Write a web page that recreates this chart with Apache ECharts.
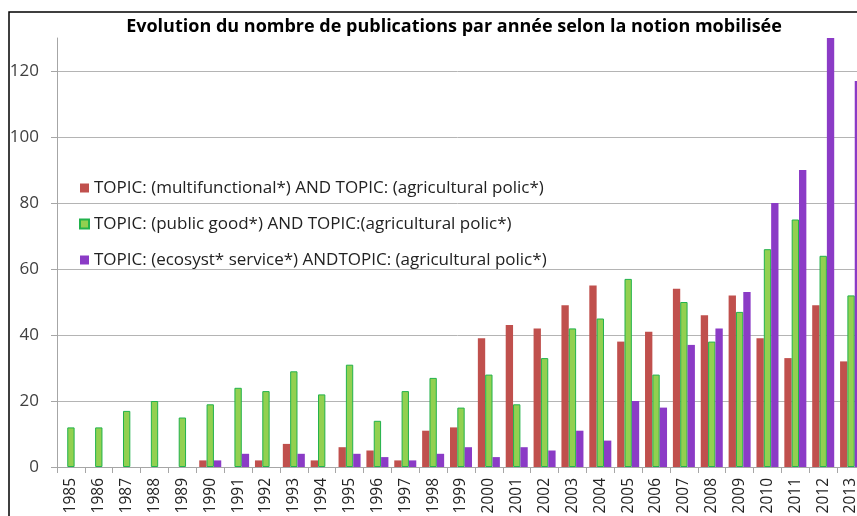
<!DOCTYPE html>
<html>
<head>
<meta charset="utf-8">
<script src="https://cdn.jsdelivr.net/npm/echarts@6/dist/echarts.min.js"></script>
<style>
  * { margin: 0; padding: 0; }
  body { background: #fff; }
</style>
</head>
<body>
<div id="main" style="width: 857px; height: 516px"></div>
<script>
// années
var years = ["1985", "1986", "1987", "1988", "1989", "1990", "1991", "1992", "1993", "1994",
  "1995", "1996", "1997", "1998", "1999", "2000", "2001", "2002", "2003", "2004",
  "2005", "2006", "2007", "2008", "2009", "2010", "2011", "2012", "2013"];
// séries
var multifunctional = [0, 0, 0, 0, 0, 2, 0, 2, 7, 2, 6, 5, 2, 11, 12, 39, 43, 42, 49, 55,
  38, 41, 54, 46, 52, 39, 33, 49, 32];
var publicGood = [12, 12, 17, 20, 15, 19, 24, 23, 29, 22, 31, 14, 23, 27, 18, 28, 19, 33, 42, 45,
  57, 28, 50, 38, 47, 66, 75, 64, 52];
var ecosystService = [0, 0, 0, 0, 0, 2, 4, 0, 4, 0, 4, 3, 2, 4, 6, 3, 6, 5, 11, 8,
  20, 18, 37, 42, 53, 80, 90, 130, 117];
var seriesNames = [
  "TOPIC: (multifunctional*) AND TOPIC: (agricultural polic*)",
  "TOPIC: (public good*) AND TOPIC:(agricultural polic*)",
  "TOPIC: (ecosyst* service*) ANDTOPIC: (agricultural polic*)"
];

var chart = echarts.init(document.getElementById("main"));
var font = "'Open Sans', 'Liberation Sans', sans-serif";

chart.setOption({
  animation: false,
  textStyle: { fontFamily: font },
  title: {
    text: "Evolution du nombre de publications par année selon la notion mobilisée",
    left: 449,
    textAlign: "center",
    top: 13,
    textStyle: { fontSize: 18, fontWeight: "bold", color: "#000", fontFamily: font }
  },
  //cadre noir
  graphic: [{
    type: "polyline",
    shape: { points: [[9, 516], [9, 12], [857, 12]] },
    style: { stroke: "#000", lineWidth: 1.5, fill: null },
    silent: true
  }],
  legend: {
    orient: "vertical",
    left: 79,
    top: 178,
    padding: 0,
    itemWidth: 9,
    itemHeight: 9,
    itemGap: 16,
    icon: "rect",
    textStyle: { fontSize: 17, color: "#222", lineHeight: 20, fontFamily: font },
    data: seriesNames
  },
  grid: { left: 57, right: -8, top: 38, bottom: 49, outerBoundsMode: "none" },
  xAxis: {
    type: "category",
    data: years,
    axisLine: { lineStyle: { color: "#a6a6a6" } },
    axisTick: { show: true, length: 6, lineStyle: { color: "#a6a6a6" } },
    axisLabel: { rotate: 90, interval: 0, margin: 11, fontSize: 15.5, color: "#222" }
  },
  yAxis: {
    type: "value",
    min: 0,
    max: 130,
    interval: 20,
    axisLine: { show: true, lineStyle: { color: "#a6a6a6" } },
    axisTick: { show: true, length: 6, lineStyle: { color: "#a6a6a6" } },
    axisLabel: { fontSize: 17, color: "#404040", margin: 18, showMaxLabel: false },
    splitLine: { showMaxLine: false, lineStyle: { color: "#b4b4b4" } }
  },
  series: [
    {
      name: seriesNames[0],
      type: "bar",
      data: multifunctional,
      barGap: "0%",
      barCategoryGap: "21%",
      itemStyle: { color: "#c0504d", borderWidth: 0 }
    },
    {
      name: seriesNames[1],
      type: "bar",
      data: publicGood,
      barGap: "0%",
      barCategoryGap: "21%",
      itemStyle: { color: "#92d050", borderColor: "#22b24c", borderWidth: 1 }
    },
    {
      name: seriesNames[2],
      type: "bar",
      data: ecosystService,
      barGap: "0%",
      barCategoryGap: "21%",
      itemStyle: { color: "#8b3bc6", borderWidth: 0 }
    }
  ]
});
</script>
</body>
</html>
